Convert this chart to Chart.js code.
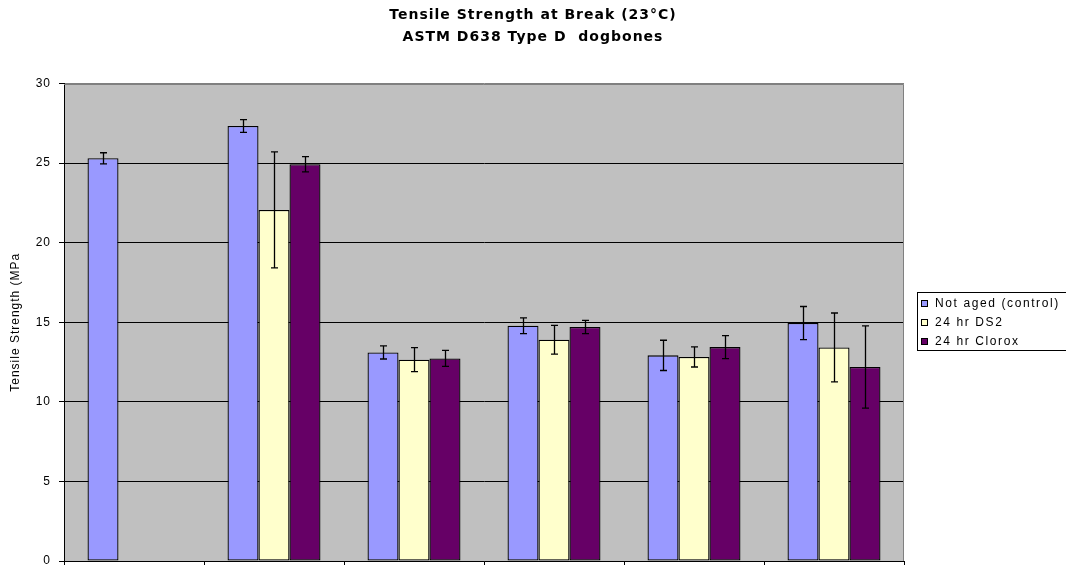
<!DOCTYPE html>
<html>
<head>
<meta charset="utf-8">
<script src="https://cdn.jsdelivr.net/npm/chart.js@4/dist/chart.umd.min.js"></script>
<style>
  html, body { margin: 0; padding: 0; background: #ffffff; }
  #wrap { width: 1066px; height: 565px; position: relative; }
</style>
</head>
<body>
<div id="wrap"><canvas id="c"></canvas></div>
<script>
// ---- Data ----
const categories = ['1', '2', '3', '4', '5', '6'];
const seriesNames = ['Not aged (control)', '24 hr DS2', '24 hr Clorox'];
const notAged    = [25.3, 27.33, 13.10, 14.78, 12.92, 14.95];
const notAgedErr = [0.35, 0.40, 0.41, 0.50, 0.95, 1.04];
const ds2        = [null, 22.06, 12.65, 13.90, 12.82, 13.42];
const ds2Err     = [null, 3.65, 0.75, 0.90, 0.63, 2.16];
const clorox     = [null, 24.93, 12.73, 14.70, 13.44, 12.19];
const cloroxErr  = [null, 0.48, 0.50, 0.42, 0.72, 2.58];
const yTicks     = [0, 5, 10, 15, 20, 25, 30];
const titleLines = ['Tensile Strength at Break (23\u00B0C)', 'ASTM D638 Type D  dogbones'];
const yTitle     = 'Tensile Strength (MPa';

const colors = ['#9999FF', '#FFFFCC', '#660066'];
const errors = [notAgedErr, ds2Err, cloroxErr];

const plotBg = {
  id: 'plotBg',
  beforeDraw(chart) {
    const {ctx, chartArea: a} = chart;
    ctx.letterSpacing = '1px';
    ctx.save();
    ctx.fillStyle = '#C0C0C0';
    ctx.fillRect(a.left, a.top, a.right - a.left, a.bottom - a.top);
    ctx.restore();
  },
  afterDraw(chart) {
    const {ctx, chartArea: a} = chart;
    ctx.save();
    ctx.strokeStyle = '#808080';
    ctx.lineWidth = 1;
    ctx.beginPath();
    ctx.moveTo(a.left, Math.round(a.top) + 0.5);
    ctx.lineTo(Math.round(a.right) - 0.5, Math.round(a.top) + 0.5);
    ctx.lineTo(Math.round(a.right) - 0.5, a.bottom);
    ctx.stroke();
    ctx.restore();
  }
};

const errorBars = {
  id: 'errorBars',
  afterDatasetsDraw(chart) {
    const {ctx} = chart;
    const y = chart.scales.y;
    ctx.save();
    ctx.strokeStyle = '#000';
    ctx.lineWidth = 1.3;
    chart.data.datasets.forEach((ds, di) => {
      const meta = chart.getDatasetMeta(di);
      meta.data.forEach((bar, i) => {
        const v = ds.data[i];
        const e = errors[di][i];
        if (v == null || e == null) return;
        const x = Math.round(bar.x) + 0.5;
        const yt = y.getPixelForValue(v + e);
        const yb = y.getPixelForValue(v - e);
        ctx.beginPath();
        ctx.moveTo(x, yt); ctx.lineTo(x, yb);
        ctx.moveTo(x - 3.5, yt); ctx.lineTo(x + 3.5, yt);
        ctx.moveTo(x - 3.5, yb); ctx.lineTo(x + 3.5, yb);
        ctx.stroke();
      });
    });
    ctx.restore();
  }
};

const boxLegend = {
  id: 'boxLegend',
  afterDraw(chart) {
    const {ctx} = chart;
    ctx.save();
    ctx.letterSpacing = '1.6px';
    const bx = 917.5, by = 292.5, bw = 170, bh = 58;
    ctx.fillStyle = '#fff';
    ctx.fillRect(bx, by, bw, bh);
    ctx.strokeStyle = '#000';
    ctx.lineWidth = 1;
    ctx.strokeRect(bx, by, bw, bh);
    ctx.font = '12px "Liberation Sans", Arial, sans-serif';
    ctx.textBaseline = 'middle';
    ctx.textAlign = 'left';
    chart.data.datasets.forEach((ds, i) => {
      const cy = 303.5 + i * 19;
      ctx.fillStyle = ds.backgroundColor;
      ctx.fillRect(921.5, cy - 3, 6, 6);
      ctx.strokeStyle = '#000';
      ctx.strokeRect(921.5, cy - 3, 6, 6);
      ctx.fillStyle = '#000';
      ctx.fillText(ds.label, 935, cy + 0.5);
    });
    ctx.restore();
  }
};

const datasets = [notAged, ds2, clorox].map((d, i) => ({
  label: seriesNames[i],
  data: d,
  backgroundColor: colors[i],
  borderColor: '#000',
  borderWidth: 1.3,
  borderSkipped: false,
  categoryPercentage: 0.664,
  barPercentage: 1.0
}));

new Chart(document.getElementById('c'), {
  type: 'bar',
  data: { labels: categories, datasets },
  options: {
    responsive: true,
    maintainAspectRatio: false,
    animation: false,
    layout: { autoPadding: false, padding: 0 },
    plugins: {
      legend: { display: false },
      tooltip: { enabled: false },
      title: {
        display: true,
        text: titleLines,
        color: '#000',
        font: { family: '"DejaVu Sans", sans-serif', size: 14, weight: 'bold', lineHeight: '22px' },
        padding: { top: 4.5, bottom: 35 }
      }
    },
    scales: {
      x: {
        afterFit(scale) { scale.height = 4; scale.paddingLeft = 0; scale.paddingRight = 0; },
        grid: { display: true, offset: true, drawOnChartArea: false, drawTicks: true, tickLength: 4, tickColor: '#000', color: '#000' },
        border: { display: true, color: '#000', width: 1 },
        ticks: { display: false }
      },
      y: {
        min: 0, max: 30,
        afterBuildTicks(scale) { scale.ticks = yTicks.map(v => ({ value: v })); },
        afterFit(scale) { scale.width = 64; scale.paddingTop = 0; scale.paddingBottom = 0; },
        grid: {
          color: ctx => (ctx.tick && ctx.tick.value === 30) ? '#808080' : '#000',
          tickColor: '#000', tickLength: 5, lineWidth: 1
        },
        border: { display: true, color: '#000', width: 1 },
        ticks: {
          color: '#000', padding: 8,
          font: { family: '"Liberation Sans", Arial, sans-serif', size: 12 }
        },
        title: {
          display: true, text: yTitle, color: '#000',
          font: { family: '"Liberation Sans", Arial, sans-serif', size: 12 },
          padding: { top: 8, bottom: 0 }
        }
      },
      legendSpace: {
        position: 'right',
        display: true,
        afterFit(scale) { scale.width = 162; scale.paddingTop = 0; scale.paddingBottom = 0; },
        grid: { display: false, drawTicks: false },
        border: { display: false },
        ticks: { display: false }
      }
    }
  },
  plugins: [plotBg, errorBars, boxLegend]
});
</script>
</body>
</html>
